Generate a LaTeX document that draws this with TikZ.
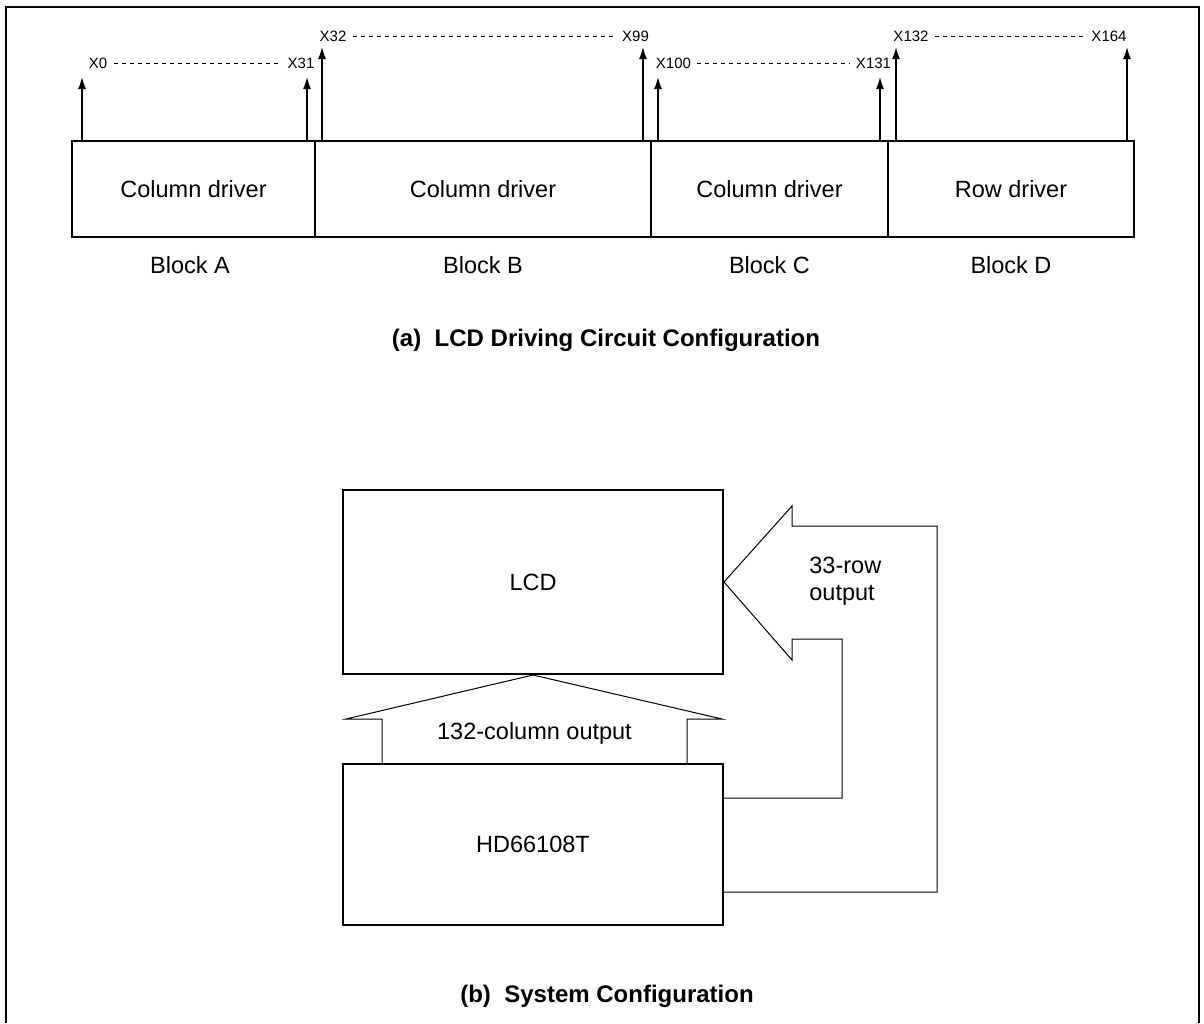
\documentclass[tikz,border=0pt]{standalone}
\usepackage{fontspec}
\setmainfont{Liberation Sans}
\usetikzlibrary{arrows.meta,calc}
\begin{document}
\begin{tikzpicture}[x=0.5pt,y=-0.5pt,
  blk/.style={draw,line width=1pt,inner sep=0pt,minimum height=48pt,font=\fontsize{11.75}{14}\selectfont},
  txt/.style={inner sep=0pt,font=\fontsize{11.75}{13.5}\selectfont},
  ttl/.style={inner sep=0pt,font=\fontsize{12}{14}\selectfont\bfseries},
  pinlbl/.style={inner sep=0pt,font=\fontsize{7.5}{9}\selectfont},
  sig/.style={line width=0.7pt,-{Latex[length=6pt,width=4pt]}},
  rng/.style={dash pattern=on 2pt off 2pt,line width=0.4pt},
  big/.style={line width=0.5pt,line join=miter},
  frm/.style={line width=0.6pt}]
\useasboundingbox (0,0) rectangle (1204,1023);
% frame
\draw[frm] (6,1023) -- (6,7) -- (1199,7) -- (1199,1023);
% blocks
\node[blk,minimum width=121.5pt] (bA) at (193.5,189) {Column driver};
\node[blk,minimum width=168pt] (bB) at (483,189) {Column driver};
\node[blk,minimum width=118.5pt] (bC) at (769.5,189) {Column driver};
\node[blk,minimum width=123pt] (bD) at (1011,189) {Row driver};
\node[txt] (lA) at (190,265) {Block A};
\node[txt] (lB) at (483,265) {Block B};
\node[txt] (lC) at (769.5,265) {Block C};
\node[txt] (lD) at (1011,265) {Block D};
% pin labels
\node[pinlbl] (p0) at (98,63) {X0};
\node[pinlbl] (p31) at (301,63) {X31};
\node[pinlbl] (p32) at (333,36) {X32};
\node[pinlbl] (p99) at (635.5,36) {X99};
\node[pinlbl] (p100) at (673.5,63) {X100};
\node[pinlbl] (p131) at (873.5,63) {X131};
\node[pinlbl] (p132) at (911,36) {X132};
\node[pinlbl] (p164) at (1109,36) {X164};
\draw[rng] ([xshift=3pt]p0.east) -- ([xshift=-3pt]p31.west);
\draw[rng] ([xshift=3pt]p32.east) -- ([xshift=-3pt]p99.west);
\draw[rng] ([xshift=3pt]p100.east) -- ([xshift=-3pt]p131.west);
\draw[rng] ([xshift=3pt]p132.east) -- ([xshift=-3pt]p164.west);
% arrow tips
\coordinate (a0) at (82,77);
\coordinate (a31) at (307,77);
\coordinate (a32) at (322,47);
\coordinate (a99) at (643,47);
\coordinate (a100) at (658,77);
\coordinate (a131) at (880,77);
\coordinate (a132) at (896,47);
\coordinate (a164) at (1127,47);
\draw[sig] (bA.north -| a0) -- (a0);
\draw[sig] (bA.north -| a31) -- (a31);
\draw[sig] (bB.north -| a32) -- (a32);
\draw[sig] (bB.north -| a99) -- (a99);
\draw[sig] (bC.north -| a100) -- (a100);
\draw[sig] (bC.north -| a131) -- (a131);
\draw[sig] (bD.north -| a132) -- (a132);
\draw[sig] (bD.north -| a164) -- (a164);
\node[ttl] (ta) at (606,340) {(a)\hspace{0.56em}LCD Driving Circuit Configuration};
% system configuration
\node[blk,minimum width=190pt,minimum height=92pt] (lcd) at (533,582) {LCD};
\node[blk,minimum width=190pt,minimum height=80.5pt] (hd) at (533,844.5) {HD66108T};
\draw[big] (382,764) -- (382,719) -- (346,719) -- (lcd.south) -- (722,719) -- (687,719) -- (687,764);
\node[txt] (colout) at (534.5,733) {132-column output};
\draw[big] (724,798) -- (842,798) -- (842,639) -- (792,639) -- (792,660) -- (lcd.east) -- (792,506) -- (792,526) -- (937,526) -- (937,892) -- (724,892);
\node[txt,align=left,anchor=west] (rowout) at (809,581.5) {33-row\\output};
\node[ttl] (tb) at (607,996) {(b)\hspace{0.56em}System Configuration};
\end{tikzpicture}
\end{document}
